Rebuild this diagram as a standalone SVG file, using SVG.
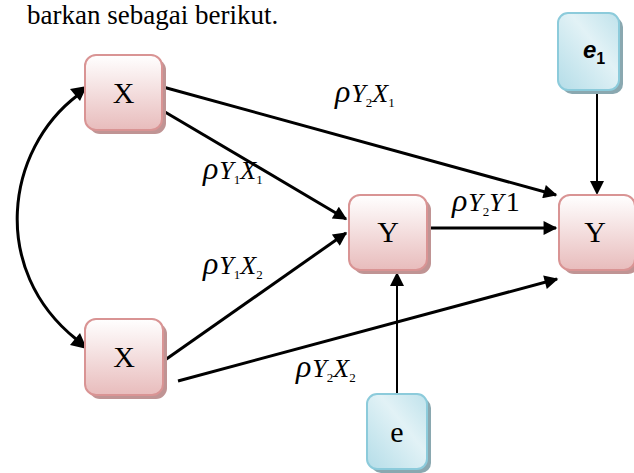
<svg xmlns="http://www.w3.org/2000/svg" width="634" height="473" viewBox="0 0 634 473">
<defs>
<linearGradient id="pink" x1="0" y1="0" x2="0" y2="1">
<stop offset="0" stop-color="#ffffff"/>
<stop offset="1" stop-color="#e8bcbc"/>
</linearGradient>
<linearGradient id="blue" x1="0" y1="1" x2="1" y2="0">
<stop offset="0" stop-color="#b4dde8"/>
<stop offset="0.6" stop-color="#e2f2f6"/>
<stop offset="1" stop-color="#bfe2eb"/>
</linearGradient>
<marker id="ah" viewBox="0 0 10 10" refX="9" refY="5" markerWidth="5.2" markerHeight="4.6" orient="auto" markerUnits="strokeWidth">
<path d="M0,0 L10,5 L0,10 z" fill="#000"/>
</marker>
</defs>
<style>
.pk{fill:url(#pink);stroke:#d99494;stroke-width:2}
.pks{fill:#c09494}
.bl{fill:url(#blue);stroke:#8ccbdb;stroke-width:2}
.bls{fill:#8aa8b0}
.nt{font-family:"Liberation Serif",serif;font-size:30px;fill:#000;text-anchor:middle}
.lb{font-family:"Liberation Serif",serif;font-style:italic;fill:#000}
.c{stroke:#000;stroke-width:3;fill:none}
.ca{stroke:#000;stroke-width:3;fill:none;marker-end:url(#ah)}
</style>
<text x="27" y="24" font-family="Liberation Serif,serif" font-size="27">barkan sebagai berikut.</text>
<g id="connectors">
<path class="ca" d="M163,87 L556,195"/>
<path class="ca" d="M165,112 L346,219"/>
<path class="ca" d="M165,360 L346,233"/>
<path class="ca" d="M178,381 L557,279"/>
<path class="ca" d="M427,228 L556,228"/>
<path d="M597,90 L597,184" stroke="#000" stroke-width="2" fill="none"/>
<path d="M590,181 L604,181 L597,195 z" fill="#000"/>
<path d="M397,394 L397,284" stroke="#000" stroke-width="2" fill="none"/>
<path d="M390,286 L404,286 L397,272 z" fill="#000"/>
<path class="c" d="M78,95 C 5,150 -10,270 76,339"/>
<path d="M87,86 L70,89 L80,101 z" fill="#000"/>
<path d="M87,349 L70,345 L80,333 z" fill="#000"/>
</g>
<g id="X1">
<rect class="pks" x="89" y="59" width="77" height="75" rx="11"/>
<rect class="pk" x="85" y="55" width="77" height="75" rx="11"/>
<text class="nt" x="123.5" y="103">X</text>
</g>
<g id="X2">
<rect class="pks" x="89" y="323" width="78" height="76" rx="11"/>
<rect class="pk" x="85" y="319" width="78" height="76" rx="11"/>
<text class="nt" x="124" y="367">X</text>
</g>
<g id="Y1">
<rect class="pks" x="353" y="199" width="78" height="75" rx="11"/>
<rect class="pk" x="349" y="195" width="78" height="75" rx="11"/>
<text class="nt" x="388" y="242">Y</text>
</g>
<g id="Y2">
<rect class="pks" x="563" y="199" width="76" height="75" rx="11"/>
<rect class="pk" x="559" y="195" width="76" height="75" rx="11"/>
<text class="nt" x="595" y="242">Y</text>
</g>
<g id="e1">
<rect class="bls" x="562" y="17" width="61" height="77" rx="10"/>
<rect class="bl" x="558" y="13" width="61" height="77" rx="10"/>
<text x="583" y="58" font-family="Liberation Sans,sans-serif" font-weight="bold" font-style="italic" font-size="24" fill="#000">e<tspan font-size="16" dy="6" font-style="normal">1</tspan></text>
</g>
<g id="e">
<rect class="bls" x="371" y="398" width="60" height="75" rx="10"/>
<rect class="bl" x="367" y="394" width="60" height="75" rx="10"/>
<text class="nt" x="397" y="442">e</text>
</g>
<g id="labels">
<text class="lb" x="335" y="102" font-size="32">ρ<tspan font-size="26" dx="1">Y</tspan><tspan font-size="13" dy="5" font-style="normal">2</tspan><tspan font-size="26" dy="-5">X</tspan><tspan font-size="13" dy="5" font-style="normal">1</tspan></text>
<text class="lb" x="203" y="179" font-size="32">ρ<tspan font-size="26" dx="1">Y</tspan><tspan font-size="13" dy="5" font-style="normal">1</tspan><tspan font-size="26" dy="-5">X</tspan><tspan font-size="13" dy="5" font-style="normal">1</tspan></text>
<text class="lb" x="203" y="274" font-size="32">ρ<tspan font-size="26" dx="1">Y</tspan><tspan font-size="13" dy="5" font-style="normal">1</tspan><tspan font-size="26" dy="-5">X</tspan><tspan font-size="13" dy="5" font-style="normal">2</tspan></text>
<text class="lb" x="452" y="211" font-size="32">ρ<tspan font-size="26" dx="1">Y</tspan><tspan font-size="13" dy="5" font-style="normal">2</tspan><tspan font-size="26" dy="-5">Y</tspan><tspan font-size="28" dx="2" font-style="normal">1</tspan></text>
<text class="lb" x="296" y="377" font-size="32">ρ<tspan font-size="26" dx="1">Y</tspan><tspan font-size="13" dy="5" font-style="normal">2</tspan><tspan font-size="26" dy="-5">X</tspan><tspan font-size="13" dy="5" font-style="normal">2</tspan></text>
</g>
</svg>
